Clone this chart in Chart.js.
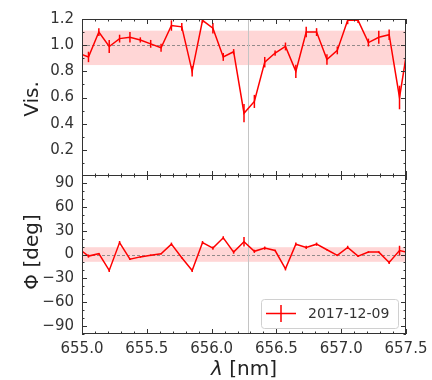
<!DOCTYPE html>
<html>
<head>
<meta charset="utf-8">
<script src="https://cdn.jsdelivr.net/npm/chart.js@4.4.1/dist/chart.umd.min.js"></script>
<style>
  html, body { margin: 0; padding: 0; background: #fff; }
  #wrap { position: relative; width: 432px; height: 380px; }
  canvas { position: absolute; left: 0; }
  #c-vis { top: 0; }
  #c-phi { top: 175px; }
</style>
</head>
<body>
<div id="wrap">
  <canvas id="c-vis" width="432" height="176"></canvas>
  <canvas id="c-phi" width="432" height="205"></canvas>
</div>
<script>
// ── DATA ──────────────────────────────────────────────────────────
const wavelength = [
  654.97, 655.05, 655.13, 655.21, 655.29, 655.37, 655.45, 655.53, 655.61, 655.69, 655.77,
  655.85, 655.93, 656.01, 656.09, 656.17, 656.25, 656.33, 656.41, 656.49, 656.57, 656.65,
  656.73, 656.81, 656.89, 656.97, 657.05, 657.13, 657.21, 657.29, 657.37, 657.45, 657.53
];
const visValues = [
  0.94, 0.91, 1.10, 0.99, 1.05, 1.06, 1.04, 1.01, 0.98, 1.15, 1.14,
  0.80, 1.19, 1.13, 0.91, 0.95, 0.48, 0.57, 0.87, 0.94, 0.99, 0.80,
  1.10, 1.10, 0.89, 0.96, 1.19, 1.19, 1.02, 1.06, 1.08, 0.60, 1.10
];
const visErrors = [
  0.03, 0.04, 0.03, 0.05, 0.03, 0.04, 0.02, 0.03, 0.03, 0.04, 0.03,
  0.04, 0.02, 0.04, 0.03, 0.02, 0.07, 0.05, 0.04, 0.02, 0.03, 0.05,
  0.04, 0.03, 0.04, 0.03, 0.03, 0.02, 0.03, 0.05, 0.04, 0.09, 0.05
];
const phiValues = [
  8, -2, 1, -20, 15, -6, -3, -1, 1, 13, -4,
  -20, 15, 8, 21, 3, 16, 4, 8, 5, -18, 13,
  9, 13, 6, -1, 9, -2, 3, 3, -10, 5, 2
];
const phiErrors = [
  2, 2, 1, 2, 2, 1, 1, 1, 1, 2, 1,
  2, 2, 2, 2, 2, 6, 2, 2, 1, 2, 2,
  2, 2, 1, 1, 2, 1, 1, 1, 2, 6, 2
];

const xTickLabels   = [655.0, 655.5, 656.0, 656.5, 657.0, 657.5];
const visTickLabels = [0.2, 0.4, 0.6, 0.8, 1.0, 1.2];
const phiTickLabels = [-90, -60, -30, 0, 30, 60, 90];

const visBand = [0.848, 1.111];
const phiBand = [-9.2, 9.2];
const lineCenter = 656.28;
const seriesLabel = "2017-12-09";

// ── STYLE ─────────────────────────────────────────────────────────
const RED   = "#ff0000";
const AXIS  = "#333333";
const FONT  = "DejaVu Sans";

Chart.defaults.font.family = FONT;
Chart.defaults.font.size   = 15;
Chart.defaults.color       = AXIS;

const isIn = (list, v) => list.some(t => Math.abs(t - v) < 1e-6);

// Band, reference lines, error bars, inward ticks, frame, titles, legend
const panelPlugin = {
  id: "panel",
  beforeDatasetsDraw(chart, args, opts) {
    const { ctx, chartArea: a, scales: { x, y } } = chart;
    ctx.save();
    // shaded band
    const yTop = y.getPixelForValue(opts.band[1]);
    const yBot = y.getPixelForValue(opts.band[0]);
    ctx.fillStyle = "rgba(255,0,0,0.16)";
    ctx.fillRect(a.left, yTop, a.right - a.left, yBot - yTop);
    // dashed reference line
    const yr = Math.round(y.getPixelForValue(opts.ref)) + 0.5;
    ctx.strokeStyle = "#777";
    ctx.lineWidth = 0.8;
    ctx.setLineDash([3, 2]);
    ctx.beginPath(); ctx.moveTo(a.left, yr); ctx.lineTo(a.right, yr); ctx.stroke();
    // line centre
    ctx.setLineDash([]);
    ctx.strokeStyle = "#c4c4c4";
    ctx.lineWidth = 1;
    const xv = Math.round(x.getPixelForValue(lineCenter)) + 0.5;
    ctx.beginPath(); ctx.moveTo(xv, a.top); ctx.lineTo(xv, a.bottom); ctx.stroke();
    ctx.restore();
  },
  afterDatasetsDraw(chart, args, opts) {
    const { ctx, chartArea: a, scales: { x, y } } = chart;
    ctx.save();
    // error bars
    ctx.beginPath();
    ctx.rect(a.left, a.top, a.right - a.left, a.bottom - a.top);
    ctx.clip();
    ctx.strokeStyle = RED;
    ctx.lineWidth = 1.5;
    opts.values.forEach((v, i) => {
      const px = x.getPixelForValue(wavelength[i]);
      ctx.beginPath();
      ctx.moveTo(px, y.getPixelForValue(v - opts.errors[i]));
      ctx.lineTo(px, y.getPixelForValue(v + opts.errors[i]));
      ctx.stroke();
    });
    ctx.restore();

    ctx.save();
    ctx.strokeStyle = AXIS;
    ctx.lineWidth = 1;
    // inward ticks on all sides
    x.ticks.forEach(t => {
      const px = Math.round(x.getPixelForValue(t.value)) + 0.5;
      const len = isIn(xTickLabels, t.value) ? 5 : 2.5;
      ctx.beginPath();
      ctx.moveTo(px, a.bottom); ctx.lineTo(px, a.bottom - len);
      ctx.moveTo(px, a.top);    ctx.lineTo(px, a.top + len);
      ctx.stroke();
    });
    y.ticks.forEach(t => {
      const py = Math.round(y.getPixelForValue(t.value)) + 0.5;
      const len = isIn(opts.yMajor, t.value) ? 5 : 2.5;
      ctx.beginPath();
      ctx.moveTo(a.left, py);  ctx.lineTo(a.left + len, py);
      ctx.moveTo(a.right, py); ctx.lineTo(a.right - len, py);
      ctx.stroke();
    });
    // frame
    ctx.strokeRect(Math.round(a.left) + 0.5, Math.round(a.top) + 0.5,
                   Math.round(a.right - a.left) - 1, Math.round(a.bottom - a.top) - 1);
    ctx.restore();
  },
  afterDraw(chart, args, opts) {
    const { ctx, chartArea: a } = chart;
    ctx.save();
    ctx.fillStyle = "#222";
    ctx.textBaseline = "middle";
    ctx.textAlign = "center";
    // y title, rotated
    ctx.save();
    ctx.translate(opts.yTitleX, opts.yTitleY);
    ctx.rotate(-Math.PI / 2);
    ctx.font = `20px "${FONT}"`;
    ctx.fillText(opts.yTitle, 0, 0);
    ctx.restore();

    if (opts.xTitle) {
      // λ italic, rest upright
      ctx.font = `italic 20px "${FONT}"`;
      const w1 = ctx.measureText("λ").width;
      ctx.font = `20px "${FONT}"`;
      const w2 = ctx.measureText(" [nm]").width;
      const cx = (a.left + a.right) / 2;
      const x0 = cx - (w1 + w2) / 2;
      ctx.textAlign = "left";
      ctx.font = `italic 20px "${FONT}"`;
      ctx.fillText("λ", x0, opts.xTitleY);
      ctx.font = `20px "${FONT}"`;
      ctx.fillText(" [nm]", x0 + w1, opts.xTitleY);
    }

    if (opts.legend) {
      const bw = 137, bh = 29;
      const bx = a.right - 8 - bw, by = a.bottom - 6 - bh;
      ctx.fillStyle = "rgba(255,255,255,0.8)";
      ctx.strokeStyle = "#d0d0d0";
      ctx.lineWidth = 1;
      ctx.beginPath();
      ctx.roundRect(bx + 0.5, by + 0.5, bw, bh, 3);
      ctx.fill(); ctx.stroke();
      const ly = by + bh / 2;
      ctx.strokeStyle = RED;
      ctx.lineWidth = 1.5;
      ctx.beginPath();
      ctx.moveTo(bx + 5, ly); ctx.lineTo(bx + 35, ly);
      ctx.moveTo(bx + 20, ly - 8.5); ctx.lineTo(bx + 20, ly + 8.5);
      ctx.stroke();
      ctx.fillStyle = "#333";
      ctx.textAlign = "left";
      ctx.font = `14px "${FONT}"`;
      ctx.fillText(seriesLabel, bx + 47, ly + 1);
    }
    ctx.restore();
  }
};

function makePanel(id, values, errors, yScale, panelOpts, pad, xHeight, showX) {
  return new Chart(document.getElementById(id), {
    type: "line",
    data: {
      datasets: [{
        label: seriesLabel,
        data: wavelength.map((w, i) => ({ x: w, y: values[i] })),
        borderColor: RED,
        borderWidth: 1.5,
        pointRadius: 0,
        tension: 0,
        fill: false,
      }]
    },
    options: {
      responsive: false,
      animation: false,
      devicePixelRatio: 1,
      layout: { padding: pad },
      plugins: {
        legend:  { display: false },
        tooltip: { enabled: false },
        panel:   { values, errors, ...panelOpts },
      },
      scales: {
        x: {
          type: "linear",
          min: 655, max: 657.5,
          grid:   { display: false, drawTicks: false },
          border: { display: false },
          ticks: {
            display: showX,
            stepSize: 0.1,
            autoSkip: false,
            maxRotation: 0,
            padding: 6,
            callback: v => isIn(xTickLabels, v) ? v.toFixed(1) : "",
          },
          afterFit: s => {
            s.height = xHeight;
            s.paddingLeft = 0; s.paddingRight = 0;
            s.paddingTop = 0; s.paddingBottom = 0;
          },
        },
        y: yScale,
      }
    },
    plugins: [panelPlugin]
  });
}

function yFit(s) {
  s.width = 82;
  s.paddingTop = 0; s.paddingBottom = 0;
  s.paddingLeft = 0; s.paddingRight = 0;
}

// ── VISIBILITY PANEL ──────────────────────────────────────────────
makePanel("c-vis", visValues, visErrors, {
  min: 0, max: 1.2,
  grid:   { display: false, drawTicks: false },
  border: { display: false },
  ticks: {
    stepSize: 0.1,
    autoSkip: false,
    padding: 8,
    callback: v => isIn(visTickLabels, v) ? v.toFixed(1) : "",
  },
  afterFit: yFit,
}, {
  band: visBand, ref: 1.0, yMajor: visTickLabels,
  yTitle: "Vis.", yTitleX: 33, yTitleY: 99,
}, { top: 19, right: 26, left: 0, bottom: 0 }, 0, false);

// ── PHASE PANEL ───────────────────────────────────────────────────
makePanel("c-phi", phiValues, phiErrors, {
  min: -100, max: 100,
  grid:   { display: false, drawTicks: false },
  border: { display: false },
  ticks: {
    stepSize: 10,
    autoSkip: false,
    padding: 8,
    callback: v => isIn(phiTickLabels, v) ? String(v).replace("-", "\u2212") : "",
  },
  afterFit: yFit,
}, {
  band: phiBand, ref: 0, yMajor: phiTickLabels,
  yTitle: "\u03A6 [deg]", yTitleX: 33, yTitleY: 77,
  xTitle: true, xTitleY: 195,
  legend: true,
}, { top: 0, right: 26, left: 0, bottom: 0 }, 46, true);
</script>
</body>
</html>
